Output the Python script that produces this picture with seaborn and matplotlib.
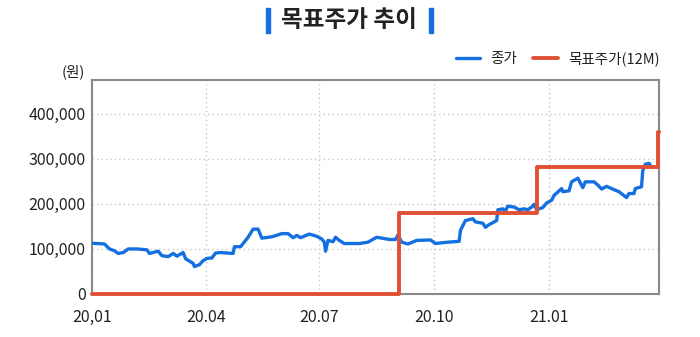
import matplotlib
matplotlib.use("Agg")
import matplotlib.pyplot as plt
import matplotlib.dates as mdates
from matplotlib.ticker import FuncFormatter, FixedLocator
import seaborn as sns
import pandas as pd

# ---- data ----
price_dates = [
    "2020-01-02", "2020-01-11", "2020-01-15", "2020-01-19", "2020-01-22", "2020-01-26",
    "2020-01-30", "2020-02-06", "2020-02-14", "2020-02-16", "2020-02-23", "2020-02-26",
    "2020-03-02", "2020-03-06", "2020-03-09", "2020-03-14", "2020-03-16", "2020-03-22",
    "2020-03-23", "2020-03-27", "2020-03-30", "2020-04-02", "2020-04-06", "2020-04-09",
    "2020-04-13", "2020-04-23", "2020-04-24", "2020-04-29", "2020-05-05", "2020-05-09",
    "2020-05-13", "2020-05-16", "2020-05-24", "2020-06-01", "2020-06-06", "2020-06-10",
    "2020-06-13", "2020-06-16", "2020-06-23", "2020-06-29", "2020-07-03", "2020-07-05",
    "2020-07-06", "2020-07-08", "2020-07-12", "2020-07-14", "2020-07-17", "2020-07-21",
    "2020-08-02", "2020-08-09", "2020-08-16", "2020-08-24", "2020-08-27", "2020-08-31",
    "2020-09-02", "2020-09-05", "2020-09-10", "2020-09-17", "2020-09-28", "2020-10-02",
    "2020-10-08", "2020-10-21", "2020-10-22", "2020-10-26", "2020-11-01", "2020-11-03",
    "2020-11-09", "2020-11-11", "2020-11-14", "2020-11-20", "2020-11-21", "2020-11-25",
    "2020-11-27", "2020-11-29", "2020-12-04", "2020-12-08", "2020-12-12", "2020-12-15",
    "2020-12-18", "2020-12-20", "2020-12-22", "2020-12-27", "2020-12-30", "2021-01-03",
    "2021-01-05", "2021-01-11", "2021-01-12", "2021-01-17", "2021-01-19", "2021-01-24",
    "2021-01-28", "2021-01-30", "2021-02-06", "2021-02-09", "2021-02-12", "2021-02-16",
    "2021-02-20", "2021-02-26", "2021-03-04", "2021-03-06", "2021-03-10", "2021-03-11",
    "2021-03-16", "2021-03-17", "2021-03-19", "2021-03-22", "2021-03-23",
]
price_values = [
    112500, 111000, 100000, 96000, 90000, 92000,
    100000, 100000, 98000, 90000, 95000, 85000,
    83000, 90000, 84000, 92000, 78000, 68000,
    61000, 65000, 74000, 79000, 80000, 91000,
    92000, 90000, 105000, 105000, 126000, 144000,
    144000, 124000, 127000, 134000, 134000, 125000,
    130000, 125000, 133000, 128000, 122000, 115000,
    95000, 119000, 116000, 126000, 119000, 112000,
    112000, 115000, 126000, 122000, 121000, 121000,
    131000, 115000, 111000, 119000, 120000, 112000,
    114000, 117000, 141000, 163000, 167000, 160000,
    157000, 148000, 154000, 163000, 187000, 189000,
    184000, 195000, 193000, 187000, 189000, 187000,
    193000, 199000, 187000, 192000, 202000, 208000,
    219000, 234000, 227000, 229000, 249000, 257000,
    236000, 249000, 249000, 242000, 233000, 239000,
    234000, 227000, 214000, 223000, 223000, 234000,
    238000, 274000, 288000, 290000, 286000,
]

target_dates = ["2020-01-01", "2020-09-03", "2020-12-22", "2021-03-29", "2021-03-30"]
target_values = [0, 180000, 281000, 360000, 360000]

x_ticks = ["2020-01-01", "2020-04-01", "2020-07-01", "2020-10-01", "2021-01-01"]
x_tick_labels = ["20,01", "20.04", "20.07", "20.10", "21.01"]
y_ticks = [0, 100000, 200000, 300000, 400000]

title = "목표주가 추이"
series_names = ["종가", "목표주가(12M)"]
unit_label = "(원)"

# ---- style ----
sns.set_style("white")
plt.rcParams["font.family"] = ["Noto Sans CJK KR", "DejaVu Sans"]

BLUE = "#1470e0"
RED = "#df5035"
GRID = "#c8c8c8"
SPINE = "#8a8a8a"
TEXT = "#222222"

price_df = pd.DataFrame({"date": pd.to_datetime(price_dates), "value": price_values})
target_df = pd.DataFrame({"date": pd.to_datetime(target_dates), "value": target_values})

fig = plt.figure(figsize=(7.0, 3.37), dpi=100)
ax = fig.add_axes([92 / 700, 43 / 337, 567 / 700, 214 / 337])

sns.lineplot(data=price_df, x="date", y="value", ax=ax, color=BLUE, linewidth=2.4,
             sort=False, label=series_names[0], zorder=3)
sns.lineplot(data=target_df, x="date", y="value", ax=ax, color=RED, linewidth=2.8,
             sort=False, drawstyle="steps-post", label=series_names[1], zorder=4,
             clip_on=False)

ax.set_xlim(pd.Timestamp("2020-01-01"), pd.Timestamp("2021-03-30"))
ax.set_ylim(0, 475000)

ax.xaxis.set_major_locator(FixedLocator(mdates.date2num(pd.to_datetime(x_ticks))))
ax.set_xticklabels(x_tick_labels)
ax.set_yticks(y_ticks)
ax.yaxis.set_major_formatter(FuncFormatter(lambda v, p: f"{int(v):,}"))

ax.tick_params(axis="both", length=0, labelsize=11.5, colors=TEXT)
ax.tick_params(axis="x", pad=10.5)
ax.tick_params(axis="y", pad=4.5)
ax.set_xlabel("")
ax.set_ylabel("")

ax.grid(True, linestyle=(0, (1, 2.2)), color=GRID, linewidth=1.0)
for s in ax.spines.values():
    s.set_color(SPINE)
    s.set_linewidth(1.5)

leg = ax.legend(loc="center right", bbox_to_anchor=(660 / 700, 1 - 59 / 337),
                bbox_transform=fig.transFigure, ncol=2, frameon=False,
                fontsize=10.5, handlelength=1.7, handletextpad=0.7, columnspacing=1.1,
                borderaxespad=0.0, borderpad=0.0)
for t in leg.get_texts():
    t.set_color(TEXT)

fig.text(73 / 700, 1 - 72 / 337, unit_label, ha="center", va="center", fontsize=10.5, color=TEXT)

fig.text(349 / 700, 1 - 20 / 337, title, ha="center", va="center", fontsize=17,
         fontweight="bold", color=TEXT)
fig.patches.append(plt.Rectangle((266 / 700, 1 - 33 / 337), 4 / 700, 25 / 337,
                                 transform=fig.transFigure, color=BLUE, figure=fig))
fig.patches.append(plt.Rectangle((429 / 700, 1 - 33 / 337), 4 / 700, 25 / 337,
                                 transform=fig.transFigure, color=BLUE, figure=fig))

fig.savefig("out.png", dpi=100)
